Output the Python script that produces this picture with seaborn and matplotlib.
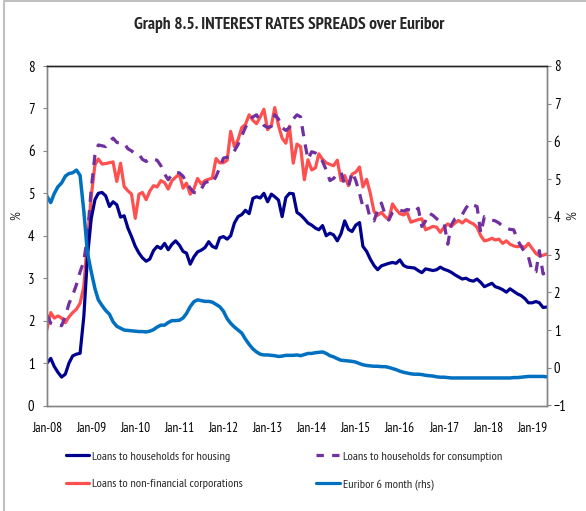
import numpy as np
import pandas as pd
import matplotlib
matplotlib.use("Agg")
import matplotlib.pyplot as plt
import matplotlib.dates as mdates
from matplotlib.lines import Line2D
import seaborn as sns

# ---------------- data (monthly, Jan-2008 .. May-2019) ----------------
start_month = "2008-01-01"
title = "Graph 8.5. INTEREST RATES SPREADS over Euribor"
series_names = ["Loans to households for housing",
                "Loans to non-financial corporations",
                "Loans to households for consumption",
                "Euribor 6 month (rhs)"]

housing = [
    1.00, 1.11, 0.92, 0.78, 0.67, 0.74, 1.00, 1.17, 1.21, 1.23, 2.10, 3.50,
    4.40, 4.85, 5.00, 5.02, 4.94, 4.69, 4.80, 4.73, 4.44, 4.47, 4.18, 3.98,
    3.75, 3.59, 3.48, 3.40, 3.45, 3.65, 3.75, 3.70, 3.82, 3.67, 3.80, 3.88,
    3.78, 3.63, 3.59, 3.33, 3.50, 3.62, 3.66, 3.72, 3.86, 3.75, 3.71, 3.95,
    3.98, 3.92, 4.00, 4.30, 4.45, 4.50, 4.60, 4.52, 4.88, 4.92, 4.89, 5.00,
    4.80, 4.98, 4.92, 4.84, 4.45, 4.90, 5.00, 4.99, 4.55, 4.49, 4.40, 4.30,
    4.25, 4.18, 4.14, 4.24, 4.00, 4.06, 4.02, 3.88, 4.05, 4.35, 4.15, 4.10,
    4.25, 4.31, 3.75, 3.63, 3.45, 3.30, 3.20, 3.29, 3.32, 3.35, 3.37, 3.35,
    3.43, 3.30, 3.26, 3.25, 3.24, 3.18, 3.13, 3.22, 3.20, 3.18, 3.20, 3.26,
    3.21, 3.18, 3.14, 3.08, 3.03, 2.98, 3.00, 2.95, 2.93, 2.98, 2.90, 2.80,
    2.84, 2.88, 2.80, 2.77, 2.73, 2.67, 2.75, 2.69, 2.63, 2.59, 2.52, 2.42,
    2.42, 2.45, 2.42, 2.31, 2.32,
]

nfc = [
    1.80, 2.19, 2.06, 2.11, 2.06, 1.95, 2.09, 2.19, 2.27, 2.41, 2.80, 3.90,
    4.92, 5.67, 5.81, 5.69, 5.70, 5.72, 5.74, 5.28, 5.71, 5.16, 5.06, 4.98,
    4.41, 4.98, 5.02, 4.85, 5.05, 5.18, 5.15, 5.30, 5.25, 5.10, 5.30, 5.38,
    5.45, 5.12, 5.24, 4.98, 5.10, 5.35, 5.22, 5.30, 5.33, 5.36, 5.82, 5.72,
    5.72, 5.78, 6.46, 6.10, 6.26, 6.55, 6.62, 6.85, 6.72, 6.64, 6.80, 6.98,
    6.50, 6.60, 7.02, 6.60, 6.30, 6.18, 6.58, 5.71, 6.16, 6.10, 5.32, 5.79,
    5.55, 5.60, 5.93, 5.80, 5.72, 5.68, 5.65, 5.78, 5.30, 5.42, 5.18, 5.45,
    5.50, 5.62, 5.15, 5.33, 5.00, 4.57, 4.48, 4.55, 4.45, 4.38, 4.75, 4.62,
    4.52, 4.49, 4.55, 4.32, 4.35, 4.38, 4.40, 4.14, 4.18, 4.22, 4.20, 4.08,
    4.20, 4.28, 4.22, 4.30, 4.36, 4.30, 4.38, 4.32, 4.28, 4.20, 4.00, 3.88,
    3.90, 3.94, 3.90, 3.92, 3.82, 3.88, 3.80, 3.76, 3.74, 3.76, 3.72, 3.82,
    3.70, 3.58, 3.53, 3.54, 3.57,
]

consumption = [
    2.13, 1.94, 1.90, 1.90, 1.88, 2.10, 2.40, 2.60, 2.85, 3.15, 3.40, 4.00,
    5.10, 5.90, 6.14, 6.12, 6.10, 6.22, 6.30, 6.20, 6.18, 6.18, 6.05, 6.00,
    5.93, 5.92, 5.80, 5.75, 5.82, 5.80, 5.78, 5.65, 5.45, 5.32, 5.45, 5.50,
    5.48, 5.40, 5.25, 5.12, 5.02, 5.00, 5.10, 5.25, 5.28, 5.24, 5.40, 5.60,
    5.83, 5.85, 5.87, 6.00, 6.15, 6.35, 6.55, 6.72, 6.80, 6.85, 6.70, 6.60,
    6.55, 6.58, 6.85, 6.75, 6.55, 6.48, 6.55, 6.75, 6.85, 6.80, 6.25, 5.80,
    5.98, 5.95, 5.88, 5.75, 5.55, 5.30, 5.35, 5.45, 5.50, 5.20, 5.15, 5.50,
    5.30, 5.00, 4.68, 4.75, 4.40, 4.35, 4.60, 4.77, 4.50, 4.37, 4.55, 4.61,
    4.60, 4.58, 4.62, 4.60, 4.55, 4.65, 4.22, 4.35, 4.53, 4.48, 4.40, 4.33,
    4.30, 3.80, 4.25, 4.40, 4.45, 4.50, 4.65, 4.77, 4.72, 4.69, 4.06, 4.45,
    4.42, 4.37, 4.35, 4.30, 4.22, 4.18, 4.15, 4.14, 3.90, 3.75, 3.60, 3.50,
    3.15, 3.15, 3.65, 3.10, 3.15,
]

euribor = [
    4.54, 4.38, 4.62, 4.80, 4.90, 5.08, 5.15, 5.17, 5.24, 5.10, 4.15, 3.05,
    2.55, 2.10, 1.80, 1.65, 1.52, 1.42, 1.22, 1.10, 1.05, 1.00, 0.99, 0.98,
    0.97, 0.96, 0.96, 0.95, 0.97, 1.01, 1.08, 1.13, 1.13, 1.20, 1.25, 1.25,
    1.26, 1.32, 1.44, 1.62, 1.75, 1.80, 1.78, 1.76, 1.76, 1.74, 1.68, 1.62,
    1.50, 1.30, 1.18, 1.08, 1.00, 0.92, 0.76, 0.62, 0.50, 0.42, 0.36, 0.34,
    0.34, 0.33, 0.32, 0.30, 0.31, 0.33, 0.33, 0.33, 0.34, 0.32, 0.35, 0.38,
    0.38, 0.40, 0.41, 0.42, 0.38, 0.32, 0.29, 0.24, 0.20, 0.19, 0.18, 0.17,
    0.15, 0.11, 0.08, 0.06, 0.05, 0.04, 0.04, 0.03, 0.03, 0.01, -0.02, -0.05,
    -0.09, -0.12, -0.14, -0.16, -0.17, -0.17, -0.18, -0.20, -0.21, -0.22, -0.24, -0.25,
    -0.25, -0.26, -0.27, -0.27, -0.27, -0.27, -0.27, -0.27, -0.27, -0.27, -0.27, -0.27,
    -0.27, -0.27, -0.27, -0.27, -0.27, -0.27, -0.27, -0.26, -0.26, -0.25, -0.24, -0.23,
    -0.23, -0.23, -0.23, -0.23, -0.24,
]

# ---------------- style ----------------
sns.set_style("white")
plt.rcParams["font.family"] = ["PT Sans Narrow", "DejaVu Sans"]

C_HOUSING = "#00008F"
C_NFC = "#FF5050"
C_CONS = "#7030A0"
C_EUR = "#0070C0"
AXIS_GRAY = "#868686"

dates = pd.date_range(start_month, periods=len(housing), freq="MS")
df = pd.DataFrame({"date": dates, "housing": housing, "nfc": nfc,
                   "consumption": consumption, "euribor": euribor})

W, H = 586, 511
fig = plt.figure(figsize=(W / 100, H / 100), dpi=100)
L, R, T, B = 47, 546.7, 66, 405.5
ax = fig.add_axes([L / W, 1 - B / H, (R - L) / W, (B - T) / H])
ax2 = ax.twinx()

lw = 2.3
sns.lineplot(data=df, x="date", y="nfc", ax=ax, color=C_NFC, lw=lw, legend=False)
sns.lineplot(data=df, x="date", y="consumption", ax=ax, color=C_CONS, lw=lw,
             linestyle=(0, (3.2, 2.6)), legend=False)
sns.lineplot(data=df, x="date", y="housing", ax=ax, color=C_HOUSING, lw=lw, legend=False)
sns.lineplot(data=df, x="date", y="euribor", ax=ax2, color=C_EUR, lw=2.5, legend=False)

ax.set_xlim(dates[0], dates[-1])
ax.set_ylim(0, 8)
ax2.set_ylim(-1, 8)
ax.set_yticks(range(0, 9))
ax2.set_yticks(range(-1, 9))
ax.xaxis.set_major_locator(mdates.YearLocator(month=1, day=1))
ax.xaxis.set_major_formatter(mdates.DateFormatter("%b-%y"))

for a in (ax, ax2):
    a.set_xlabel("")
    a.set_ylabel("")
    a.grid(False)
    for s in ("left", "right", "bottom"):
        a.spines[s].set_color(AXIS_GRAY)
        a.spines[s].set_linewidth(1.0)
    a.spines["top"].set_color("#262626")
    a.spines["top"].set_linewidth(1.0)

ax.tick_params(axis="x", length=0, pad=12, labelsize=9.5, colors="#000000")
ax.tick_params(axis="y", length=3, width=0.8, color=AXIS_GRAY, pad=6,
               labelsize=10.5, labelcolor="#000000", left=True)
ax2.tick_params(axis="y", length=3, width=0.8, color=AXIS_GRAY, pad=2,
                labelsize=10.5, labelcolor="#000000", right=True)

fig.text(17 / W, 1 - 216 / H, "%", rotation=90, ha="center", va="center", fontsize=10)
fig.text(573 / W, 1 - 216 / H, "%", rotation=90, ha="center", va="center", fontsize=10)

fig.text(289 / W, 1 - 25 / H, title, ha="center", va="center",
         fontsize=12.5, fontweight="bold")

handles = [
    Line2D([], [], color=C_HOUSING, lw=lw),
    Line2D([], [], color=C_NFC, lw=lw),
    Line2D([], [], color=C_CONS, lw=lw, linestyle=(0, (2.3, 2.6))),
    Line2D([], [], color=C_EUR, lw=lw),
]
fs_leg = 8.8
fig.legend(handles, series_names, loc="upper left",
           bbox_to_anchor=(66 / W, 1 - 451 / H), ncol=2, frameon=False,
           fontsize=fs_leg, handlelength=1.9, handletextpad=0.25,
           columnspacing=6.0, labelspacing=1.4, borderpad=0, borderaxespad=0)

# outer frame of the original exhibit
frame_col = "#C0C0C0"
fig.add_artist(Line2D([4 / W, 4 / W], [0, 1 - 1 / H], transform=fig.transFigure,
                      color=frame_col, lw=1.5))
fig.add_artist(Line2D([4 / W, 1], [1 - 1 / H, 1 - 1 / H], transform=fig.transFigure,
                      color=frame_col, lw=1.5))

fig.savefig("out.png", dpi=100)
